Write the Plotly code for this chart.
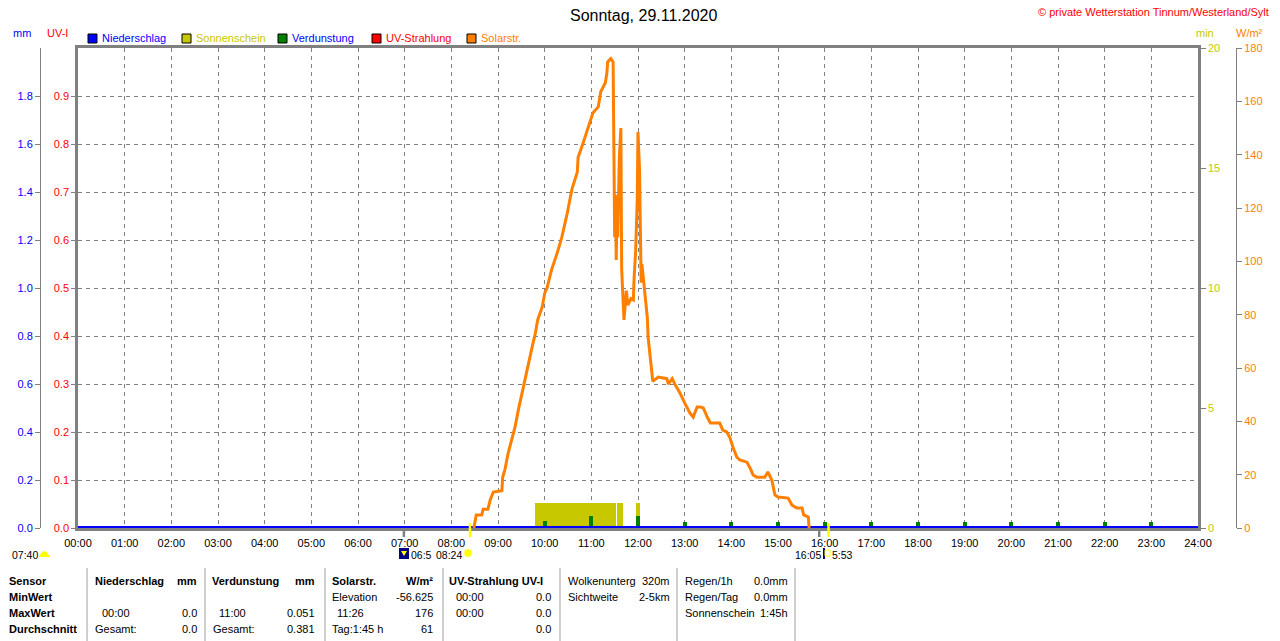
import plotly.graph_objects as go

W, H = 1280, 641
FONT = "Liberation Sans, Arial, sans-serif"
GRAY = "#808080"
BLUE = "#0000FF"
OLIVE = "#C8C800"
GREEN = "#008000"
RED = "#FF0000"
ORANGE = "#FF8000"

# x axis: hours of the day
HOURS = [0, 1, 2, 3, 4, 5, 6, 7, 8, 9, 10, 11, 12, 13, 14, 15, 16, 17, 18, 19, 20, 21, 22, 23, 24]
HOUR_LABELS = ["00:00", "01:00", "02:00", "03:00", "04:00", "05:00", "06:00", "07:00",
               "08:00", "09:00", "10:00", "11:00", "12:00", "13:00", "14:00", "15:00",
               "16:00", "17:00", "18:00", "19:00", "20:00", "21:00", "22:00", "23:00", "24:00"]

# Solarstrahlung W/m2
SOLAR_TIME = ["08:29", "08:32", "08:39", "08:41", "08:47", "08:50", "08:54", "09:05", "09:06",
              "09:09", "09:13", "09:18", "09:22", "09:26", "09:31", "09:35", "09:39", "09:44",
              "09:48", "09:51", "09:57", "10:00", "10:03", "10:09", "10:16", "10:22", "10:29",
              "10:35", "10:42", "10:43", "10:49", "10:54", "10:58", "11:02", "11:09", "11:12",
              "11:18", "11:20", "11:21", "11:25", "11:28", "11:29", "11:30", "11:31", "11:32",
              "11:33", "11:34", "11:36", "11:38", "11:39", "11:41", "11:42", "11:45", "11:47",
              "11:51", "11:54", "11:55", "11:56", "11:57", "11:59", "12:00", "12:02", "12:03",
              "12:04", "12:05", "12:09", "12:12", "12:13", "12:15", "12:18", "12:19", "12:26",
              "12:37", "12:39", "12:44", "12:48", "12:54", "13:00", "13:07", "13:11", "13:16",
              "13:20", "13:24", "13:29", "13:33", "13:45", "13:49", "13:54", "13:58", "14:02",
              "14:07", "14:11", "14:20", "14:24", "14:28", "14:33", "14:43", "14:47", "14:52",
              "14:56", "15:00", "15:13", "15:18", "15:24", "15:31", "15:33", "15:39", "15:40"]
SOLAR_WM2 = [0, 4.9, 4.9, 7, 7, 10.5, 13.5, 14, 19,
             22, 28, 33, 38, 44, 51, 55.5, 62, 68,
             73, 78, 83, 88, 90, 97, 103, 109, 118,
             127, 133.5, 139, 144, 148.5, 152, 155.6, 158, 163.5,
             167, 170.6, 174.8, 176, 174.8, 138, 109, 125, 100.5,
             120, 109, 139, 150, 97, 80.6, 78, 89, 83.6,
             86, 85.5, 93.7, 98, 104, 123, 148.5, 134, 105,
             92, 99, 86.6, 79, 71.6, 65.6, 59, 55, 56.6,
             56, 54, 56, 53.6, 50.6, 46.9, 43, 41.6, 45.4,
             45.4, 45, 41.6, 39.4, 39.4, 36.7, 36, 34, 30.4,
             26.6, 25.5, 24.7, 22.5, 19.9, 19, 19, 21, 18,
             12.4, 11.6, 11.2, 8.6, 7.5, 7.5, 4.9, 4.1, 0]

# Sonnenschein (min), as intervals
SUN_START = ["09:47", "11:33", "11:58"]
SUN_END = ["11:32", "11:41", "12:03"]
SUN_MIN = [1.05, 1.05, 1.05]

# Verdunstung (mm per hour)
EVAP_TIME = ["10:00", "11:00", "12:00", "13:00", "14:00", "15:00", "16:00", "17:00",
             "18:00", "19:00", "20:00", "21:00", "22:00", "23:00"]
EVAP_MM = [0.029, 0.051, 0.050, 0.025, 0.024, 0.024, 0.023, 0.023,
           0.023, 0.023, 0.023, 0.023, 0.023, 0.023]

# Niederschlag and UV were zero all day
RAIN_TIME = ["00:00", "24:00"]
RAIN_MM = [0.0, 0.0]
UV_TIME = ["00:00", "24:00"]
UV_INDEX = [0.0, 0.0]

UV_TICKS = [0.0, 0.1, 0.2, 0.3, 0.4, 0.5, 0.6, 0.7, 0.8, 0.9]
MM_TICKS = [0.0, 0.2, 0.4, 0.6, 0.8, 1.0, 1.2, 1.4, 1.6, 1.8]
MIN_TICKS = [0, 5, 10, 15, 20]
WM2_TICKS = [0, 20, 40, 60, 80, 100, 120, 140, 160, 180]

SUNRISE, SUNSET = "08:24", "16:05"
MOONSET, MOONRISE = "06:59", "15:53"


def hours(s):
    h, m = s.split(":")
    return int(h) + int(m) / 60


def px(x):
    return x / W


def py(y):
    return 1 - y / H


annotations = []
shapes = []


def label(x, y, text, color="black", size=11, anchor="left", bold=False):
    annotations.append(dict(
        xref="paper", yref="paper", x=px(x), y=py(y),
        text=f"<b>{text}</b>" if bold else text, showarrow=False,
        xanchor=anchor, yanchor="middle", borderpad=0,
        font=dict(family=FONT, size=size, color=color)))


fig = go.Figure()

sun_x = [(hours(a) + hours(b)) / 2 for a, b in zip(SUN_START, SUN_END)]
sun_w = [hours(b) - hours(a) for a, b in zip(SUN_START, SUN_END)]
fig.add_trace(go.Bar(x=sun_x, y=SUN_MIN, width=sun_w, marker_color=OLIVE,
                     marker_line_width=0, yaxis="y", name="Sonnenschein"))
fig.add_trace(go.Scatter(x=[hours(t) for t in UV_TIME], y=UV_INDEX, mode="lines",
                         line=dict(color=RED, width=4), yaxis="y2", name="UV-Strahlung"))
fig.add_trace(go.Bar(x=[hours(t) for t in EVAP_TIME], y=EVAP_MM, width=0.09,
                     marker_color=GREEN, marker_line_width=0, yaxis="y3", name="Verdunstung"))
fig.add_trace(go.Scatter(x=[hours(t) for t in RAIN_TIME], y=RAIN_MM, mode="lines",
                         line=dict(color=BLUE, width=4), yaxis="y3", name="Niederschlag"))
fig.add_trace(go.Scatter(x=[hours(t) for t in SOLAR_TIME], y=SOLAR_WM2, mode="lines",
                         line=dict(color=ORANGE, width=3), yaxis="y4", name="Solarstr."))

tickfont = dict(family=FONT, size=11)
y_dom = [113 / H, 593 / H]

fig.update_layout(
    width=W, height=H,
    margin=dict(l=0, r=0, t=0, b=0),
    paper_bgcolor="white", plot_bgcolor="white",
    showlegend=False, barmode="overlay", bargap=0,
    xaxis=dict(domain=[78 / W, 1198 / W], range=[0, 24], tickvals=HOURS, ticktext=HOUR_LABELS,
               tickfont=dict(family=FONT, size=11, color="black"), ticks="", ticklabelstandoff=3,
               showgrid=True, gridcolor=GRAY, griddash="4px,4px", gridwidth=1,
               showline=True, mirror=True, linecolor=GRAY, linewidth=2.5,
               layer="below traces", zeroline=False, automargin=False, fixedrange=True),
    yaxis=dict(domain=y_dom, range=[0, 20], side="right", anchor="x",
               tickvals=MIN_TICKS, tickfont=dict(tickfont, color=OLIVE),
               ticks="outside", ticklen=5, tickcolor=GRAY,
               showgrid=False, zeroline=False, showline=True, linecolor=GRAY, linewidth=2.5,
               automargin=False),
    yaxis2=dict(domain=y_dom, range=[0, 1.0], overlaying="y", side="left", anchor="x",
                tickvals=UV_TICKS, ticktext=[f"{v:.1f}" for v in UV_TICKS],
                tickfont=dict(tickfont, color=RED), ticks="outside", ticklen=4, tickcolor=GRAY,
                showgrid=True, gridcolor=GRAY, griddash="4px,4px", gridwidth=1,
                zeroline=False, showline=True, linecolor=GRAY, linewidth=2.5, automargin=False),
    yaxis3=dict(domain=y_dom, range=[0, 2.0], overlaying="y", side="left", anchor="free",
                position=40 / W, tickvals=MM_TICKS, ticktext=[f"{v:.1f}" for v in MM_TICKS],
                tickfont=dict(tickfont, color=BLUE), ticks="outside", ticklen=5, tickcolor=GRAY,
                showgrid=False, zeroline=False, showline=True, linecolor=GRAY, linewidth=1,
                automargin=False),
    yaxis4=dict(domain=y_dom, range=[0, 180], overlaying="y", side="right", anchor="free",
                position=1236 / W, tickvals=WM2_TICKS,
                tickfont=dict(tickfont, color=ORANGE), ticks="outside", ticklen=5, tickcolor=GRAY,
                showgrid=False, zeroline=False, showline=True, linecolor=GRAY, linewidth=1,
                automargin=False),
)

# title and station note
label(643, 15, "Sonntag, 29.11.2020", size=16, anchor="center")
label(1270, 12, "© private Wetterstation Tinnum/Westerland/Sylt", color=RED, size=11, anchor="right")

# axis units
label(22, 33, "mm", color=BLUE, anchor="center")
label(57, 33, "UV-I", color=RED, anchor="center")
label(1205, 33, "min", color=OLIVE, anchor="center")
label(1249, 33, "W/m²", color=ORANGE, anchor="center")

# legend boxes
for x, col, text, tcol in [(88, BLUE, "Niederschlag", BLUE), (182, OLIVE, "Sonnenschein", OLIVE),
                           (278, GREEN, "Verdunstung", BLUE), (372, RED, "UV-Strahlung", RED),
                           (467, ORANGE, "Solarstr.", ORANGE)]:
    shapes.append(dict(type="rect", xref="paper", yref="paper", x0=px(x), x1=px(x + 9),
                       y0=py(43), y1=py(34), fillcolor=col, line=dict(color="black", width=1)))
    label(x + 13, 38, text, color=tcol)

# sun / moon ticks below the axis
for t, col, top in [(MOONSET, GRAY, 528), (MOONRISE, GRAY, 528), (SUNRISE, "#FFFF00", 523),
                    (SUNSET, "#FFFF00", 523)]:
    shapes.append(dict(type="line", xref="x", yref="paper", x0=hours(t), x1=hours(t),
                       y0=py(537), y1=py(top), line=dict(color=col, width=2.5)))

# bottom markers
LOW = 555
label(11, LOW, "07:40", size=10.5)
shapes.append(dict(type="path", xref="paper", yref="paper",
                   path=f"M {px(39)} {py(557)} Q {px(44)} {py(545)} {px(50)} {py(557)} Z",
                   fillcolor="#FFFF00", line=dict(width=0)))
shapes.append(dict(type="rect", xref="paper", yref="paper", x0=px(399), x1=px(409),
                   y0=py(559), y1=py(548), fillcolor="#000080", line=dict(width=0)))
shapes.append(dict(type="path", xref="paper", yref="paper",
                   path=f"M {px(401)} {py(551)} L {px(407)} {py(551)} L {px(404)} {py(556)} Z",
                   fillcolor="#FFFF00", line=dict(width=0)))
label(410, LOW, "06:5", size=10.5)
label(463, LOW, "08:24", size=10.5, anchor="right")
shapes.append(dict(type="circle", xref="paper", yref="paper", x0=px(464), x1=px(472),
                   y0=py(557), y1=py(549), fillcolor="#FFFF00", line=dict(color="#FFFF80", width=1)))
label(822, LOW, "16:05", size=10.5, anchor="right")
shapes.append(dict(type="rect", xref="paper", yref="paper", x0=px(823), x1=px(825),
                   y0=py(559), y1=py(548), fillcolor="#000080", line=dict(width=0)))
shapes.append(dict(type="rect", xref="paper", yref="paper", x0=px(825), x1=px(830),
                   y0=py(556), y1=py(550), fillcolor="rgba(0,0,0,0)", line=dict(color="#FFFF00", width=1)))
label(831, LOW, "5:53", size=10.5)

# summary table
ROWS_Y = [581, 597, 613, 629]
label(8, ROWS_Y[0], "Sensor", bold=True)
label(8, ROWS_Y[1], "MinWert", bold=True)
label(8, ROWS_Y[2], "MaxWert", bold=True)
label(8, ROWS_Y[3], "Durchschnitt", bold=True)

label(94, ROWS_Y[0], "Niederschlag", bold=True)
label(198, ROWS_Y[0], "mm", bold=True, anchor="right")
label(101, ROWS_Y[2], "00:00")
label(198, ROWS_Y[2], "0.0", anchor="right")
label(94, ROWS_Y[3], "Gesamt:")
label(198, ROWS_Y[3], "0.0", anchor="right")

label(211, ROWS_Y[0], "Verdunstung", bold=True)
label(316, ROWS_Y[0], "mm", bold=True, anchor="right")
label(218, ROWS_Y[2], "11:00")
label(316, ROWS_Y[2], "0.051", anchor="right")
label(212, ROWS_Y[3], "Gesamt:")
label(316, ROWS_Y[3], "0.381", anchor="right")

label(331, ROWS_Y[0], "Solarstr.", bold=True)
label(434, ROWS_Y[0], "W/m²", bold=True, anchor="right")
label(331, ROWS_Y[1], "Elevation")
label(434, ROWS_Y[1], "-56.625", anchor="right")
label(336, ROWS_Y[2], "11:26")
label(434, ROWS_Y[2], "176", anchor="right")
label(331, ROWS_Y[3], "Tag:1:45 h")
label(434, ROWS_Y[3], "61", anchor="right")

label(448, ROWS_Y[0], "UV-Strahlung UV-I", bold=True)
label(455, ROWS_Y[1], "00:00")
label(552, ROWS_Y[1], "0.0", anchor="right")
label(455, ROWS_Y[2], "00:00")
label(552, ROWS_Y[2], "0.0", anchor="right")
label(552, ROWS_Y[3], "0.0", anchor="right")

label(567, ROWS_Y[0], "Wolkenunterg")
label(671, ROWS_Y[0], "320m", anchor="right")
label(567, ROWS_Y[1], "Sichtweite")
label(671, ROWS_Y[1], "2-5km", anchor="right")

label(684, ROWS_Y[0], "Regen/1h")
label(789, ROWS_Y[0], "0.0mm", anchor="right")
label(684, ROWS_Y[1], "Regen/Tag")
label(789, ROWS_Y[1], "0.0mm", anchor="right")
label(684, ROWS_Y[2], "Sonnenschein")
label(789, ROWS_Y[2], "1:45h", anchor="right")

for x in [87, 205, 325, 443, 560, 677, 795]:
    shapes.append(dict(type="line", xref="paper", yref="paper", x0=px(x), x1=px(x),
                       y0=py(568), y1=py(641), line=dict(color="#A0A0A0", width=1)))

fig.update_layout(annotations=annotations, shapes=shapes)
# the page's default body margin would push the figure 8px off
fig.write_html("out.html", config={"displayModeBar": False},
               post_script="document.body.style.margin='0';")
